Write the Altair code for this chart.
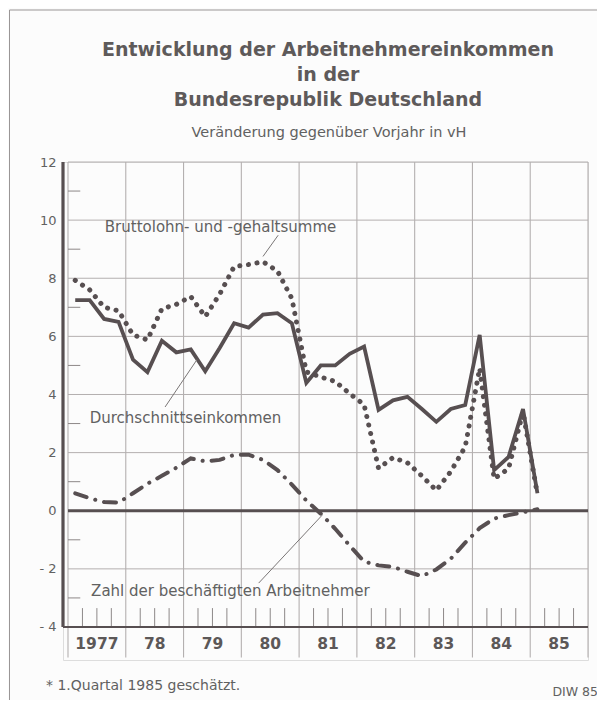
import altair as alt
import pandas as pd

# ---------------- data (quarterly, 1977 Q1 .. 1985 Q1) ----------------
years = ["1977", "78", "79", "80", "81", "82", "83", "84", "85"]
quarter_index = list(range(33))  # 0 = 1977 Q1 ... 32 = 1985 Q1

brutto = [7.93, 7.6, 7.0, 6.88, 6.05, 5.88, 6.95, 7.1, 7.37, 6.68, 7.45, 8.4,
          8.47, 8.57, 8.25, 7.3, 4.78, 4.6, 4.45, 4.03, 3.65, 1.46, 1.83, 1.65,
          1.2, 0.7, 1.35, 2.2, 4.9, 1.1, 1.45, 3.4, 0.55]
durch = [7.25, 7.25, 6.6, 6.5, 5.2, 4.77, 5.85, 5.45, 5.55, 4.8, 5.6, 6.45,
         6.3, 6.75, 6.8, 6.45, 4.4, 5.0, 5.0, 5.4, 5.65, 3.47, 3.8, 3.92,
         3.5, 3.06, 3.5, 3.64, 6.05, 1.4, 1.85, 3.5, 0.6]
zahl = [0.6, 0.43, 0.3, 0.28, 0.6, 0.93, 1.2, 1.48, 1.8, 1.7, 1.75, 1.92,
        1.93, 1.75, 1.4, 0.9, 0.35, -0.1, -0.62, -1.2, -1.75, -1.88, -1.93, -2.1,
        -2.25, -2.02, -1.65, -1.1, -0.6, -0.27, -0.15, -0.05, 0.05]

y_tick_values = [-4, -2, 0, 2, 4, 6, 8, 10, 12]
grid_values = [-2, 2, 4, 6, 8, 10, 12]
minor_values = [-3, -1, 1, 3, 5, 7, 9, 11]

title_lines = ["Entwicklung der Arbeitnehmereinkommen", "in der", "Bundesrepublik Deutschland"]
subtitle = "Veränderung gegenüber Vorjahr in vH"

annot_text = ["Bruttolohn- und -gehaltsumme", "Durchschnittseinkommen",
              "Zahl  der  beschäftigten  Arbeitnehmer"]
annot_x = [2.55, 1.5, 1.6]
annot_y = [9.76, 3.19, -2.76]
leader_x = [14.55, 6.72, 13.2]
leader_y = [9.48, 3.57, -2.49]
leader_x2 = [13.5, 8.93, 17.6]
leader_y2 = [8.75, 5.2, -0.15]

footnote = "* 1.Quartal 1985 geschätzt."
source = "DIW 85"

# ---------------- frames ----------------
X0, X1 = -0.346, 36.0       # x domain (quarters); -0.346 is the thick axis line
Y0, Y1 = -5.136, 12.0       # y domain incl. the label band below the plot

line_col = "#574f51"
grid_col = "#b4b0b0"
text_col = "#616161"

xs = alt.Scale(domain=[X0, X1], nice=False, zero=False)
ys = alt.Scale(domain=[Y0, Y1], nice=False, zero=False)
yaxis = alt.Axis(values=y_tick_values, title=None, ticks=False, domain=False,
                 grid=False, labelPadding=7, labelFontSize=13, labelColor=text_col,
                 labelFont="DejaVu Sans",
                 labelExpr="datum.value < 0 ? '- ' + abs(datum.value) : datum.label")


def X(f):
    return alt.X(f, type="quantitative", scale=xs, axis=None)


def Y(f):
    return alt.Y(f, type="quantitative", scale=ys, axis=yaxis)


series = pd.concat([
    pd.DataFrame({"q": [i + 0.5 for i in quarter_index], "v": brutto, "s": "Bruttolohn- und -gehaltsumme"}),
    pd.DataFrame({"q": [i + 0.5 for i in quarter_index], "v": durch, "s": "Durchschnittseinkommen"}),
    pd.DataFrame({"q": [i + 0.5 for i in quarter_index], "v": zahl, "s": "Zahl der beschäftigten Arbeitnehmer"}),
])

hgrid = pd.DataFrame({"y": grid_values, "x0": 0.0, "x1": X1})
vgrid = pd.DataFrame({"x": [4 * k for k in range(10)], "ya": -5.05, "yb": Y1})
minor = pd.DataFrame({"y": minor_values, "x0": 0.0, "x1": 0.85})
qt = pd.DataFrame({"x": [k for k in range(1, 36) if k % 4 != 0], "ya": -4.0, "yb": -3.35})
axis_lines = pd.DataFrame({"x0": [X0, X0, 0.0], "x1": [X0, X1, X1],
                           "y0": [-4.0, -4.0, 0.0], "y1": [12.0, -4.0, 0.0],
                           "w": [3.2, 2.2, 3.0]})
year_lab = pd.DataFrame({"t": years, "x": [4 * k + 2 for k in range(9)], "y": -4.6})
annots = pd.DataFrame({"t": annot_text, "x": annot_x, "y": annot_y})
leaders = pd.DataFrame({"x": leader_x, "y": leader_y, "x2": leader_x2, "y2": leader_y2})

base = alt.Chart(series)

l_hgrid = alt.Chart(hgrid).mark_rule(color=grid_col, strokeWidth=1).encode(
    y=Y("y"), x=X("x0"), x2="x1")
l_vgrid = alt.Chart(vgrid).mark_rule(color=grid_col, strokeWidth=1.1).encode(
    x=X("x"), y=Y("ya"), y2="yb")
l_minor = alt.Chart(minor).mark_rule(color="#8d8888", strokeWidth=1).encode(
    y=Y("y"), x=X("x0"), x2="x1")
l_qt = alt.Chart(qt).mark_rule(color="#8d8888", strokeWidth=1).encode(
    x=X("x"), y=Y("ya"), y2="yb")
l_axes = alt.Chart(axis_lines).mark_rule(color=line_col).encode(
    x=X("x0"), x2="x1", y=Y("y0"), y2="y1",
    strokeWidth=alt.StrokeWidth("w:Q", scale=None, legend=None))

l_brutto = base.transform_filter(alt.datum.s == "Bruttolohn- und -gehaltsumme").mark_line(
    color=line_col, strokeWidth=5, strokeDash=[0.1, 8.6], strokeCap="round").encode(
    x=X("q"), y=Y("v"))
l_durch = base.transform_filter(alt.datum.s == "Durchschnittseinkommen").mark_line(
    color=line_col, strokeWidth=3.8, strokeJoin="miter").encode(
    x=X("q"), y=Y("v"))
l_zahl = base.transform_filter(alt.datum.s == "Zahl der beschäftigten Arbeitnehmer").mark_line(
    color=line_col, strokeWidth=4, strokeDash=[12, 9, 0.1, 9], strokeCap="round").encode(
    x=X("q"), y=Y("v"))

l_leaders = alt.Chart(leaders).mark_rule(color="#7a7676", strokeWidth=1).encode(
    x=X("x"), y=Y("y"), x2="x2", y2="y2")
l_annots = alt.Chart(annots).mark_text(align="left", baseline="middle", font="DejaVu Sans",
                                       fontSize=15, color=text_col).encode(
    x=X("x"), y=Y("y"), text="t:N")
l_years = alt.Chart(year_lab).mark_text(align="center", baseline="middle", font="DejaVu Sans",
                                        fontSize=15.5, fontWeight="bold", color="#5c5858").encode(
    x=X("x"), y=Y("y"), text="t:N")

notes = pd.DataFrame({"t": [footnote]})
l_foot = alt.Chart(notes).mark_text(align="left", baseline="middle", font="DejaVu Sans",
                                    fontSize=14, color=text_col).encode(
    x=alt.value(-17), y=alt.value(524), text="t:N")
src = pd.DataFrame({"t": [source]})
l_src = alt.Chart(src).mark_text(align="right", baseline="middle", font="DejaVu Sans",
                                 fontSize=12.5, color=text_col).encode(
    x=alt.value(535), y=alt.value(530), text="t:N")
l_frame_v = alt.Chart(notes).mark_rule(color="#9a9696", strokeWidth=1).encode(
    x=alt.value(-53.5), y=alt.value(-152), y2=alt.value(560))
l_frame_h = alt.Chart(notes).mark_rule(color="#9a9696", strokeWidth=1).encode(
    x=alt.value(-53.5), x2=alt.value(560), y=alt.value(-152))

title_layers = []
for txt, py in zip(title_lines, [-112, -87, -62]):
    title_layers.append(
        alt.Chart(pd.DataFrame({"t": [txt]})).mark_text(
            align="center", baseline="middle", font="DejaVu Sans", fontSize=19,
            fontWeight="bold", color="#5e5a5a").encode(
            x=alt.value(265), y=alt.value(py), text="t:N"))
title_layers.append(
    alt.Chart(pd.DataFrame({"t": [subtitle]})).mark_text(
        align="center", baseline="middle", font="DejaVu Sans", fontSize=14.5,
        color=text_col).encode(x=alt.value(266), y=alt.value(-29), text="t:N"))

chart = alt.layer(
    l_hgrid, l_vgrid, l_minor, l_qt, l_axes,
    l_zahl, l_brutto, l_durch,
    l_leaders, l_annots, l_years, l_foot, l_src, l_frame_v, l_frame_h,
    *title_layers,
).properties(
    width=525, height=498,
    autosize=alt.AutoSizeParams(type="none"),
    padding={"left": 55, "top": 154, "right": 9, "bottom": 40},
).configure_view(stroke=None).configure(background="#fcfcfc")

chart.save("out.html", embed_options={"renderer": "svg", "actions": False})
